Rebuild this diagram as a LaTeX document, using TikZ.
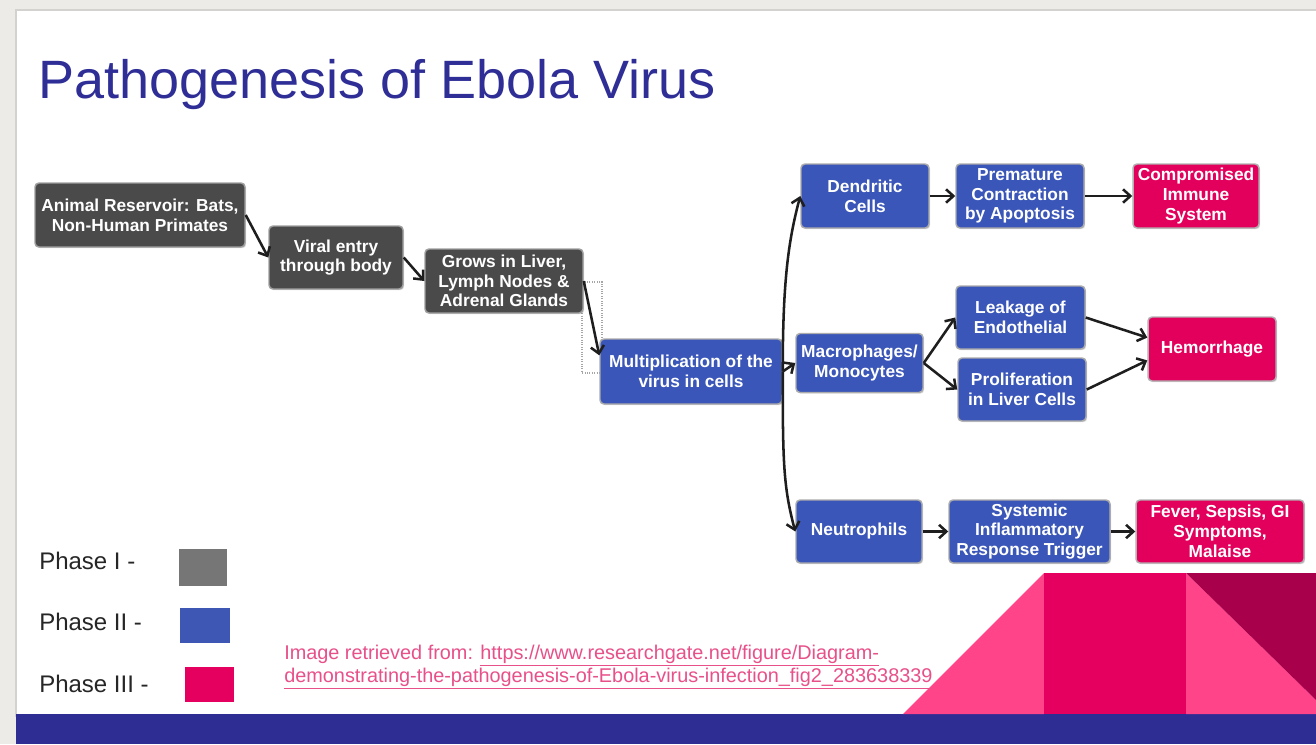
\documentclass[tikz,border=0pt]{standalone}
\usepackage{fontspec}
\setmainfont{Liberation Sans}
\usetikzlibrary{arrows.meta,shadows}
\definecolor{bgray}{HTML}{EDEBE8}
\definecolor{slideline}{HTML}{D4D2CE}
\definecolor{navy}{HTML}{2D2D94}
\definecolor{titleblue}{HTML}{2E2E96}
\definecolor{phaseone}{HTML}{4A4A4A}
\definecolor{phasetwo}{HTML}{3A56B8}
\definecolor{phasethree}{HTML}{E2005C}
\definecolor{legone}{HTML}{767676}
\definecolor{legtwo}{HTML}{3E57B5}
\definecolor{legthree}{HTML}{E5005F}
\definecolor{lightpink}{HTML}{FF4489}
\definecolor{midpink}{HTML}{E5005F}
\definecolor{darkpink}{HTML}{A8004A}
\definecolor{citepink}{HTML}{E8508A}
\definecolor{arrowblack}{HTML}{1E1E1E}
\begin{document}
\begin{tikzpicture}[x=0.75pt,y=-0.75pt,
  sz/.style 2 args={minimum width=#1*0.75pt, minimum height=#2*0.75pt},
  basebox/.style={rounded corners=3pt, line width=1.1pt, inner sep=1pt,
    align=center, text=white,
    font=\bfseries\fontsize{13}{14.8}\selectfont,
    drop shadow={shadow xshift=0.9pt, shadow yshift=-0.9pt, opacity=0.3}},
  pone/.style={basebox, fill=phaseone, draw=gray!75},
  ptwo/.style={basebox, fill=phasetwo, draw=gray!65},
  pthree/.style={basebox, fill=phasethree, draw=gray!60},
  arr/.style={draw=arrowblack, line width=1.9pt, -{Straight Barb[length=5.5pt,width=10pt]}},
  legtext/.style={anchor=base west, inner sep=0pt, text=black!85, font=\fontsize{18}{20}\selectfont},
  cite/.style={anchor=base west, inner sep=0pt, text=citepink, font=\fontsize{14.9}{17}\selectfont}
]
\useasboundingbox (0,0) rectangle (1316,744);
% slide background
\fill[bgray] (0,0) rectangle (1316,744);
\filldraw[fill=white, draw=slideline, line width=0.8pt] (16,10) rectangle (1318,716);
\fill[navy] (16,714) rectangle (1316,744);
% decoration
\fill[lightpink] (903,714) -- (1044,573) -- (1044,714) -- cycle;
\fill[midpink] (1044,573) rectangle (1186,714);
\fill[lightpink] (1186,573) -- (1316,700) -- (1316,714) -- (1186,714) -- cycle;
\fill[darkpink] (1186,573) -- (1316,573) -- (1316,700) -- cycle;

% title
\node[anchor=base west, text=titleblue, font=\fontsize{40.5}{46}\selectfont, inner sep=0pt]
  (title) at (38,98) {Pathogenesis of Ebola Virus};

% dotted frame
\draw[gray!70, densely dotted, line width=0.8pt] (582,282) rectangle (602,373);

% boxes
\node[pone, sz={210}{64}] (anim) at (140,215) {Animal Reservoir: Bats,\\Non-Human Primates};
\node[pone, sz={134}{63}] (viral) at (336,257.5) {Viral entry\\through body};
\node[pone, sz={158}{64}] (grows) at (504,281) {Grows in Liver,\\Lymph Nodes \&\\Adrenal Glands};
\node[ptwo, sz={182}{65}] (multi) at (691,371.5) {Multiplication of the\\virus in cells};
\node[ptwo, sz={128}{64}] (dend) at (865,196) {Dendritic\\Cells};
\node[ptwo, sz={128}{64}] (prem) at (1020,196) {Premature\\Contraction\\by Apoptosis};
\node[pthree, sz={126}{64}] (comp) at (1196,196) {Compromised\\Immune\\System};
\node[ptwo, sz={127}{59}] (macro) at (859.5,363) {Macrophages/\\Monocytes};
\node[ptwo, sz={129}{63}] (leak) at (1020.5,317.5) {Leakage of\\Endothelial};
\node[ptwo, sz={128}{63}] (prolif) at (1022,389.5) {Proliferation\\in Liver Cells};
\node[pthree, sz={128}{64}] (hem) at (1212,349) {Hemorrhage};
\node[ptwo, sz={126}{63}] (neut) at (859,531.5) {Neutrophils};
\node[ptwo, sz={161}{63}] (syst) at (1029.5,531.5) {Systemic\\Inflammatory\\Response Trigger};
\node[pthree, sz={168}{63}] (fever) at (1220,531.5) {Fever, Sepsis, GI\\Symptoms,\\Malaise};

% connectors
\draw[arr] (anim.east) -- (viral.west);
\draw[arr] (viral.east) -- (grows.west);
\draw[arr] (grows.east) -- (multi.170);
\draw[arr] (multi.east) -- (macro.west);
\draw[arr] (multi.east) .. controls +(0,-90) and +(-12,45) .. (dend.west);
\draw[arr] (multi.east) .. controls +(0,90) and +(-12,-45) .. (neut.west);
\draw[arr] (dend.east) -- (prem.west);
\draw[arr] (prem.east) -- (comp.west);
\draw[arr] (macro.east) -- (leak.west);
\draw[arr] (macro.east) -- (prolif.west);
\draw[arr] (leak.east) -- (hem.170);
\draw[arr] (prolif.east) -- (hem.190);
\draw[arr] (neut.east) -- (syst.west);
\draw[arr] (syst.east) -- (fever.west);

% legend
\node[legtext] (l1) at (39,569) {Phase I -};
\node[legtext] (l2) at (39,630) {Phase II -};
\node[legtext] (l3) at (39,692) {Phase III -};
\fill[legone] (179,549) rectangle (227,586);
\fill[legtwo] (180,608) rectangle (230,643);
\fill[legthree] (185,667) rectangle (234,702);

% citation
\node[cite] (c1) at (284,659) {Image retrieved from: \underline{https://www.researchgate.net/figure/Diagram-}};
\node[cite] (c2) at (284,682) {\underline{demonstrating-the-pathogenesis-of-Ebola-virus-infection\_fig2\_283638339}};
\end{tikzpicture}
\end{document}
